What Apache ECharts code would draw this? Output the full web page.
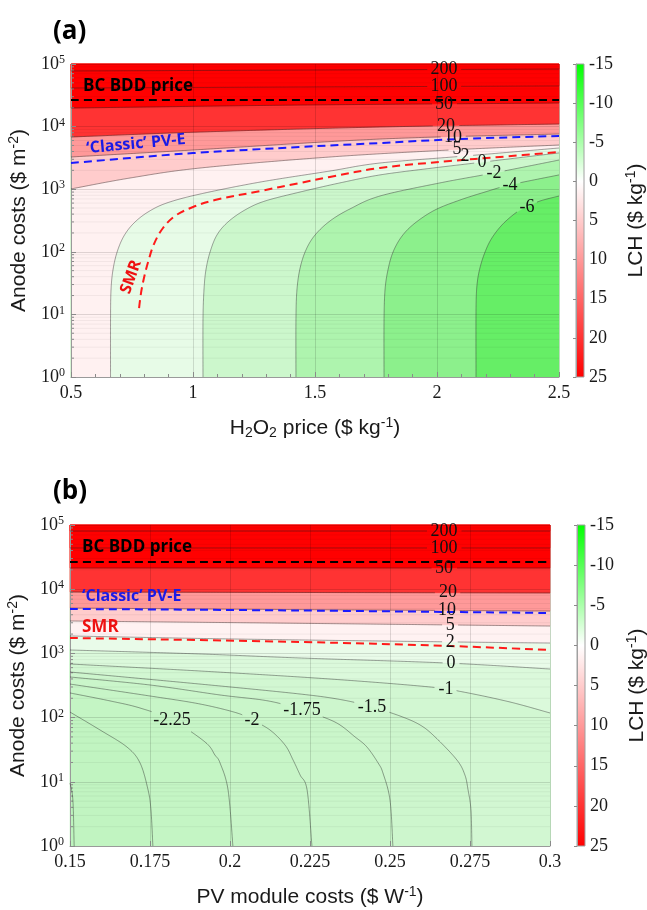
<!DOCTYPE html>
<html>
<head>
<meta charset="utf-8">
<title>LCH contour maps</title>
<script src="https://cdn.jsdelivr.net/npm/echarts@6.0.0/dist/echarts.min.js"></script>
<style>
* { margin: 0; padding: 0; }
body { background: #fff; }
#chart-container { width: 647px; height: 910px; }
</style>
</head>
<body>
<div id="chart-container"></div>
<script>
// ---------- (a) LCH vs H2O2 price ($/kg) and anode cost ($/m2) ----------
const levelsA = [-6, -4, -2, 0, 2, 5, 10, 20, 50, 100, 200];
const a_m6 = [[2.16, 1], [2.16, 11.7], [2.164, 29.5], [2.176, 55.1], [2.197, 99.3], [2.225, 166], [2.27, 278], [2.328, 433], [2.369, 520], [2.422, 647], [2.5, 778]];
const a_m4 = [[1.783, 1], [1.783, 8.15], [1.787, 24.5], [1.799, 51.2], [1.82, 99.3], [1.857, 179], [1.91, 288], [1.992, 466], [2.094, 671], [2.197, 902], [2.299, 1170], [2.5, 1690]];
const a_m2 = [[1.422, 1], [1.422, 8.15], [1.426, 24.5], [1.439, 55.1], [1.463, 107], [1.5, 185], [1.561, 310], [1.643, 483], [1.766, 778], [2.012, 1260], [2.234, 1820], [2.5, 2920]];
const a_0 = [[1.041, 1], [1.041, 8.15], [1.045, 24.5], [1.053, 51.2], [1.07, 99.3], [1.098, 185], [1.143, 299], [1.213, 466], [1.295, 647], [1.439, 902], [1.602, 1260], [1.766, 1690], [1.971, 2150], [2.184, 2700], [2.5, 3800]];
const a_2 = [[0.662, 1], [0.662, 8.15], [0.664, 24.5], [0.672, 51.2], [0.689, 99.3], [0.717, 179], [0.758, 288], [0.816, 433], [0.893, 603], [1.029, 837], [1.275, 1300], [1.561, 1950], [1.766, 2620], [2.115, 3390], [2.5, 4550]];
const a_5 = [[0.5, 1010], [0.742, 1510], [1.029, 2180], [1.561, 3270], [2.053, 4230], [2.5, 5080]];
const a_10 = [[0.5, 3270], [1.0, 4230], [1.77, 6340], [2.5, 7620]];
const a_20 = [[0.5, 6820], [1.03, 8200], [1.77, 9860], [2.5, 11000]];
const a_50 = [[0.5, 19800], [1.44, 22100], [2.5, 23800]];
const a_100 = [[0.5, 41400], [1.5, 43000], [2.5, 44600]];
const a_200 = [[0.5, 77300], [1.5, 80200], [2.5, 83200]];
const linesA = [a_m6, a_m4, a_m2, a_0, a_2, a_5, a_10, a_20, a_50, a_100, a_200];
const smrA = [[0.779, 12.6], [0.787, 22], [0.799, 38.1], [0.816, 68.7], [0.84, 133], [0.877, 240], [0.926, 373], [1.0, 520], [1.09, 671], [1.275, 935], [1.439, 1260], [1.561, 1570], [1.766, 2180], [2.053, 2820], [2.258, 3270], [2.5, 3930]];
const pveA = [[0.5, 2620], [0.742, 3150], [1.0, 3780], [1.439, 4720], [1.766, 5470], [2.094, 6340], [2.5, 7080]];
const bddA = [[0.5, 26600], [2.5, 26600]];
// contour label: [level, x, y]
const labelsA = [[200, 2.029, 81000], [100, 2.029, 43400], [50, 2.029, 23000], [20, 2.037, 10300], [10, 2.066, 6860], [5, 2.082, 4290], [2, 2.115, 3390], [0, 2.184, 2700], [-2, 2.234, 1820], [-4, 2.299, 1170], [-6, 2.369, 520]];

// ---------- (b) LCH vs PV module cost ($/W) and anode cost ($/m2) ----------
const levelsB = [-2.75, -2.5, -2.25, -2, -1.75, -1.5, -1, 0, 2, 5, 10, 20, 50, 100, 200];
const b_m275 = [[0.15, 9.57], [0.1509, 5.21], [0.1513, 1]];
const b_m25 = [[0.15, 122], [0.1594, 64.1], [0.1678, 34.8], [0.1719, 19.6], [0.1744, 7.45], [0.1753, 3.64], [0.1759, 1]];
const b_m225 = [[0.15, 242], [0.1625, 182], [0.1719, 141], [0.1819, 91.8], [0.1922, 41.7], [0.1953, 26.1], [0.1969, 19.6], [0.1994, 7.45], [0.2009, 1]];
const b_m2 = [[0.15, 333], [0.175, 217], [0.1906, 163], [0.2022, 118], [0.2069, 91.8], [0.2125, 64.1], [0.2172, 37.4], [0.2197, 21.9], [0.2219, 12.8], [0.2241, 7.45], [0.2256, 1]];
const b_m175 = [[0.15, 429], [0.175, 322], [0.1969, 225], [0.2119, 182], [0.2225, 131], [0.2328, 85.3], [0.2391, 49.9], [0.2428, 34.8], [0.2463, 19.6], [0.2478, 13.7], [0.25, 5.21], [0.2509, 1]];
const b_m15 = [[0.15, 513], [0.1906, 333], [0.2219, 233], [0.2353, 188], [0.2444, 146], [0.2531, 106], [0.2594, 76.8], [0.2641, 49.9], [0.2709, 21.9], [0.2734, 12.8], [0.2744, 7.45], [0.2753, 3.64], [0.2756, 1]];
const b_m1 = [[0.15, 684], [0.1906, 532], [0.2313, 399], [0.2625, 300], [0.2728, 251], [0.2875, 175], [0.3, 118]];
const b_0 = [[0.15, 1130], [0.1906, 980], [0.2219, 848], [0.2678, 708], [0.3, 571]];
const b_2 = [[0.15, 1870], [0.2, 1680], [0.269, 1510], [0.3, 1450]];
const b_5 = [[0.15, 3200], [0.225, 2930], [0.3, 2670]];
const b_10 = [[0.15, 5090], [0.225, 4800], [0.3, 4570]];
const b_20 = [[0.15, 9040], [0.3, 8730]];
const b_50 = [[0.15, 21400], [0.3, 21400]];
const b_100 = [[0.15, 43900], [0.3, 43900]];
const b_200 = [[0.15, 80700], [0.3, 80700]];
const linesB = [b_m275, b_m25, b_m225, b_m2, b_m175, b_m15, b_m1, b_0, b_2, b_5, b_10, b_20, b_50, b_100, b_200];
const smrB = [[0.15, 1738], [0.2219, 1507], [0.2688, 1303], [0.3, 1130]];
const pveB = [[0.15, 4920], [0.2219, 4656], [0.3, 4256]];
const bddB = [[0.15, 26550], [0.3, 26550]];
const labelsB = [[200, 0.2669, 80700], [100, 0.2669, 43900], [50, 0.2669, 21400], [20, 0.2681, 8800], [10, 0.2678, 4700], [5, 0.2688, 2750], [2, 0.2688, 1510], [0, 0.2691, 705], [-1, 0.2675, 276], [-1.5, 0.2444, 146], [-1.75, 0.2225, 131], [-2, 0.2069, 91.8], [-2.25, 0.1819, 91.8]];

// axes
const yDecades = [1, 10, 100, 1000, 10000, 100000];
const cbarTicks = [-15, -10, -5, 0, 5, 10, 15, 20, 25];

// band fill colours, from below the lowest level upward
const bandColorsA = ['#66ee66', '#8cf08c', '#aef4ae', '#ccf7cc', '#e7fbe7', '#fff1f1', '#ffcccc', '#ff9999', '#ff3333', '#ff0000', '#ff0000', '#ff0000'];
const bandColorsB = ['#bdf3bd', '#c1f4c1', '#c4f5c4', '#c7f5c7', '#caf6ca', '#cdf6cd', '#d2f7d2', '#dbf9db', '#e9fbe9', '#fff2f2', '#ffcccc', '#ff9999', '#ff3333', '#ff0000', '#ff0000', '#ff0000'];

const FONT_SERIF = "'Liberation Serif', 'DejaVu Serif', serif";
const FONT_SANS = "'Liberation Sans', Arial, sans-serif";
const FONT_NOTE = "'Open Sans', 'Noto Sans', sans-serif";
const TXT = '#1a1a1a';

const notesA = [
    {text: 'BC BDD price', x: 0.549, y: 44600, color: '#000', rot: 0, size: 17, align: 'left'},
    {text: '\u2018Classic\u2019 PV-E', x: 0.766, y: 5270, color: '#1a1ae6', rot: 5.3, size: 16, align: 'center'},
    {text: 'SMR', x: 0.746, y: 39.5, color: '#ee1111', rot: 70, size: 16, align: 'center'}
];
const notesB = [
    {text: 'BC BDD price', x: 0.15375, y: 45400, color: '#000', rot: 0, size: 17, align: 'left'},
    {text: '\u2018Classic\u2019 PV-E', x: 0.15375, y: 7830, color: '#1a1ae6', rot: 0, size: 16, align: 'left'},
    {text: 'SMR', x: 0.15375, y: 2580, color: '#ee1111', rot: 0, size: 17, align: 'left'}
];

const minorY = [];
yDecades.slice(0, -1).forEach(d => [2, 3, 4, 5, 6, 7, 8, 9].forEach(m => minorY.push(m * d)));

const PA = {levels: levelsA, lines: linesA, colors: bandColorsA, labels: labelsA, notes: notesA,
    xr: [0.5, 2.5], yr: [yDecades[0], yDecades[5]], smr: smrA, pve: pveA, bdd: bddA};
const PB = {levels: levelsB, lines: linesB, colors: bandColorsB, labels: labelsB, notes: notesB,
    xr: [0.15, 0.3], yr: [yDecades[0], yDecades[5]], smr: smrB, pve: pveB, bdd: bddB};

// catmull-rom through pixel points, just for drawing
function smoothPath(pts, n) {
    if (pts.length < 3) return pts.map(p => p.slice());
    const out = [];
    for (let i = 0; i < pts.length - 1; i++) {
        const p0 = pts[Math.max(i - 1, 0)], p1 = pts[i], p2 = pts[i + 1], p3 = pts[Math.min(i + 2, pts.length - 1)];
        for (let k = 0; k < n; k++) {
            const t = k / n, t2 = t * t, t3 = t2 * t;
            out.push([0, 1].map(d => 0.5 * (2 * p1[d] + (p2[d] - p0[d]) * t +
                (2 * p0[d] - 5 * p1[d] + 4 * p2[d] - p3[d]) * t2 +
                (3 * p1[d] - p0[d] - 3 * p2[d] + p3[d]) * t3)));
        }
    }
    out.push(pts[pts.length - 1].slice());
    return out;
}

function densify(pts, step) {
    const out = [pts[0]];
    for (let i = 1; i < pts.length; i++) {
        const a = pts[i - 1], b = pts[i];
        const n = Math.max(1, Math.ceil(Math.hypot(b[0] - a[0], b[1] - a[1]) / step));
        for (let k = 1; k <= n; k++) out.push([a[0] + (b[0] - a[0]) * k / n, a[1] + (b[1] - a[1]) * k / n]);
    }
    return out;
}

// 0 bottom, 1 right, 2 top, 3 left
function edgeOf(p, xr, yr) {
    if (Math.abs(p[1] - yr[0]) < 1e-9) return 0;
    if (Math.abs(p[0] - xr[1]) < 1e-9) return 1;
    if (Math.abs(p[1] - yr[1]) < 1e-6) return 2;
    return 3;
}

function labelWidth(s) {
    let w = 0;
    for (const ch of s) w += ch === '.' ? 4.5 : (ch === '-' ? 6 : 9);
    return w;
}

function makeFill(P) {
    return function (params, api) {
        const i = params.dataIndex, xr = P.xr, yr = P.yr;
        const corners = [[xr[1], yr[0]], [xr[1], yr[1]], [xr[0], yr[1]], [xr[0], yr[0]]];
        let poly;
        if (i === 0) {
            poly = [[xr[0], yr[0]], [xr[1], yr[0]], [xr[1], yr[1]], [xr[0], yr[1]]].map(p => api.coord(p));
        } else {
            // region above the contour: line, then walk the box back to its start
            const line = P.lines[i - 1];
            poly = smoothPath(line.map(p => api.coord(p)), 10);
            let k = edgeOf(line[line.length - 1], xr, yr);
            const ks = edgeOf(line[0], xr, yr);
            let guard = 0;
            while (k !== ks && guard++ < 4) {
                poly.push(api.coord(corners[k]));
                k = (k + 1) % 4;
            }
        }
        return {type: 'polygon', shape: {points: poly}, style: {fill: P.colors[i], stroke: P.colors[i], lineWidth: 0.5}};
    };
}

function makeLines(P) {
    return function (params, api) {
        const lvl = P.levels[params.dataIndex];
        const pts = densify(smoothPath(P.lines[params.dataIndex].map(p => api.coord(p)), 10), 1.5);
        const holes = P.labels.filter(l => l[0] === lvl)
            .map(l => ({c: api.coord([l[1], l[2]]), r: labelWidth(String(l[0])) / 2 + 3}));
        const runs = [];
        let cur = [];
        pts.forEach(p => {
            if (holes.some(h => Math.hypot(p[0] - h.c[0], p[1] - h.c[1]) < h.r)) {
                if (cur.length > 1) runs.push(cur);
                cur = [];
            } else cur.push(p);
        });
        if (cur.length > 1) runs.push(cur);
        return {
            type: 'group',
            children: runs.map(r => ({type: 'polyline', shape: {points: r},
                style: {stroke: 'rgba(30,30,30,0.6)', lineWidth: 0.7, fill: null}}))
        };
    };
}

function makeLabels(P) {
    return function (params, api) {
        const l = P.labels[params.dataIndex];
        const c = api.coord([l[1], l[2]]);
        return {type: 'text', x: c[0], y: c[1],
            style: {text: String(l[0]), fill: '#111', fontSize: 18, fontFamily: FONT_SERIF, align: 'center', verticalAlign: 'middle'}};
    };
}

function makeMinor(P) {
    return function (params, api) {
        const v = minorY[params.dataIndex];
        const a = api.coord([P.xr[0], v]), b = api.coord([P.xr[1], v]);
        return {
            type: 'group', children: [
                {type: 'line', shape: {x1: a[0], y1: a[1], x2: b[0], y2: b[1]}, style: {stroke: 'rgba(0,0,0,0.05)', lineWidth: 1}},
                {type: 'line', shape: {x1: a[0], y1: a[1], x2: a[0] + 3, y2: a[1]}, style: {stroke: '#8a8a8a', lineWidth: 1}}
            ]
        };
    };
}

function makeNotes(P) {
    return function (params, api) {
        const n = P.notes[params.dataIndex];
        const c = api.coord([n.x, n.y]);
        return {type: 'text', x: c[0], y: c[1], rotation: n.rot * Math.PI / 180,
            style: {text: n.text, fill: n.color, fontSize: n.size, fontWeight: 'bold', fontFamily: FONT_NOTE,
                align: n.align, verticalAlign: 'middle'}};
    };
}

function renderCbar(params, api) {
    const a = api.coord([0, cbarTicks[0]]), b = api.coord([1, cbarTicks[cbarTicks.length - 1]]);
    return {
        type: 'rect',
        shape: {x: Math.min(a[0], b[0]), y: Math.min(a[1], b[1]), width: Math.abs(b[0] - a[0]), height: Math.abs(b[1] - a[1])},
        style: {
            fill: new echarts.graphic.LinearGradient(0, 0, 0, 1, [
                {offset: 0, color: '#00ff00'}, {offset: 0.375, color: '#ffffff'}, {offset: 1, color: '#ff0000'}]),
            stroke: '#a0a0a0', lineWidth: 1
        }
    };
}

function dashed(data, color, g) {
    return {type: 'line', xAxisIndex: g, yAxisIndex: g, data: data, symbol: 'none', smooth: 0.35,
        lineStyle: {color: color, width: 2, type: [8, 5]}, z: 4, silent: true};
}

function panelSeries(P, g) {
    const ax = {xAxisIndex: g, yAxisIndex: g, coordinateSystem: 'cartesian2d', silent: true};
    return [
        Object.assign({type: 'custom', z: 1, renderItem: makeFill(P), data: P.colors.map(() => [P.xr[0], P.yr[0]])}, ax),
        Object.assign({type: 'custom', z: 2, renderItem: makeMinor(P), data: minorY.map(v => [P.xr[0], v])}, ax),
        Object.assign({type: 'custom', z: 3, renderItem: makeLines(P), data: P.lines.map(l => l[0])}, ax),
        dashed(P.bdd, '#000000', g),
        dashed(P.pve, '#1a1aff', g),
        dashed(P.smr, '#ff1a1a', g),
        Object.assign({type: 'custom', z: 5, renderItem: makeLabels(P), data: P.labels.map(l => [l[1], l[2]])}, ax),
        Object.assign({type: 'custom', z: 6, renderItem: makeNotes(P), data: P.notes.map(n => [n.x, n.y])}, ax)
    ];
}

const richName = {
    n: {fontSize: 21, lineHeight: 24, fontFamily: FONT_SANS, color: TXT},
    sub: {fontSize: 14, lineHeight: 14, fontFamily: FONT_SANS, color: TXT, verticalAlign: 'bottom'},
    sup: {fontSize: 14, lineHeight: 14, fontFamily: FONT_SANS, color: TXT, verticalAlign: 'top'}
};
const nameStyle = {color: TXT, fontFamily: FONT_SANS, fontSize: 21, rich: richName};

function xAxisMain(g, min, max, interval, name, minor) {
    return {
        gridIndex: g, type: 'value', min: min, max: max, interval: interval, z: 2,
        axisLine: {onZero: false, lineStyle: {color: '#9a9a9a'}},
        axisTick: {inside: true, length: 5, lineStyle: {color: '#8a8a8a'}},
        minorTick: {show: minor, splitNumber: 5, length: 3, lineStyle: {color: '#8a8a8a'}},
        splitLine: {show: true, lineStyle: {color: 'rgba(0,0,0,0.13)', width: 1}},
        axisLabel: {margin: 7, color: TXT, fontFamily: FONT_SERIF, fontSize: 18},
        name: name, nameLocation: 'middle', nameGap: 39, nameTextStyle: nameStyle
    };
}

function yAxisMain(g) {
    return {
        gridIndex: g, type: 'log', logBase: 10, min: yDecades[0], max: yDecades[5], splitNumber: 5, z: 2,
        axisLine: {onZero: false, lineStyle: {color: '#9a9a9a'}},
        axisTick: {inside: true, length: 5, lineStyle: {color: '#8a8a8a'}},
        splitLine: {show: true, lineStyle: {color: 'rgba(0,0,0,0.13)', width: 1}},
        axisLabel: {
            margin: 6,
            formatter: v => '{b|10}{s|' + Math.round(Math.log10(v)) + '}',
            rich: {
                b: {fontSize: 18, lineHeight: 20, fontFamily: FONT_SERIF, color: TXT},
                s: {fontSize: 12, lineHeight: 12, fontFamily: FONT_SERIF, color: TXT, verticalAlign: 'top'}
            }
        },
        name: '{n|Anode costs ($ m}{sup|-2}{n|)}', nameLocation: 'middle', nameGap: 34, nameRotate: 90,
        nameTextStyle: nameStyle
    };
}

function cbarY(g) {
    return {
        gridIndex: g, type: 'value', min: cbarTicks[0], max: cbarTicks[cbarTicks.length - 1], interval: 5,
        inverse: true, position: 'right', z: 2,
        axisLine: {show: true, lineStyle: {color: '#a0a0a0'}},
        axisTick: {show: true, inside: true, length: 3, lineStyle: {color: '#8a8a8a'}},
        splitLine: {show: false},
        axisLabel: {margin: 5, color: TXT, fontFamily: FONT_SERIF, fontSize: 18},
        name: '{n|LCH ($ kg}{sup|-1}{n|)}', nameLocation: 'middle', nameGap: 40, nameRotate: 90,
        nameTextStyle: nameStyle
    };
}

const dom = document.getElementById('chart-container');
const myChart = echarts.init(dom, null, {renderer: 'canvas'});

const option = {
    animation: false,
    backgroundColor: '#ffffff',
    grid: [
        {left: 71, top: 64, width: 488, height: 313, containLabel: false, outerBoundsMode: 'none'},
        {left: 70, top: 525, width: 480, height: 321, containLabel: false, outerBoundsMode: 'none'},
        {left: 576, top: 64, width: 8, height: 313, containLabel: false, outerBoundsMode: 'none'},
        {left: 577, top: 525, width: 8, height: 321, containLabel: false, outerBoundsMode: 'none'}
    ],
    xAxis: [
        xAxisMain(0, 0.5, 2.5, 0.5, '{n|H}{sub|2}{n|O}{sub|2}{n| price ($ kg}{sup|-1}{n|)}', true),
        xAxisMain(1, 0.15, 0.3, 0.025, '{n|PV module costs ($ W}{sup|-1}{n|)}', false),
        {gridIndex: 2, type: 'value', min: 0, max: 1, show: false},
        {gridIndex: 3, type: 'value', min: 0, max: 1, show: false}
    ],
    yAxis: [yAxisMain(0), yAxisMain(1), cbarY(2), cbarY(3)],
    graphic: [
        {type: 'text', x: 53, y: 32, style: {text: '(a)', fill: '#000', fontSize: 26, fontWeight: 'bold', fontFamily: FONT_NOTE, verticalAlign: 'middle'}},
        {type: 'text', x: 53, y: 492, style: {text: '(b)', fill: '#000', fontSize: 26, fontWeight: 'bold', fontFamily: FONT_NOTE, verticalAlign: 'middle'}}
    ],
    series: panelSeries(PA, 0).concat(panelSeries(PB, 1)).concat([
        {type: 'custom', xAxisIndex: 2, yAxisIndex: 2, coordinateSystem: 'cartesian2d', z: 1, silent: true,
            renderItem: renderCbar, data: [[0, cbarTicks[0]]]},
        {type: 'custom', xAxisIndex: 3, yAxisIndex: 3, coordinateSystem: 'cartesian2d', z: 1, silent: true,
            renderItem: renderCbar, data: [[0, cbarTicks[0]]]}
    ])
};

myChart.setOption(option);
window.addEventListener('resize', () => myChart.resize());
</script>
</body>
</html>
